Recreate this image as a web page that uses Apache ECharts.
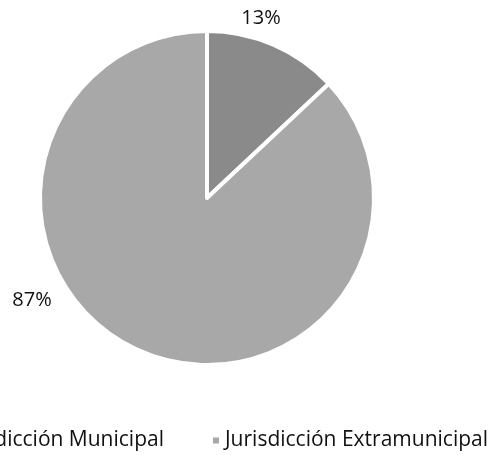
<!DOCTYPE html>
<html>
<head>
<meta charset="utf-8">
<script src="https://cdn.jsdelivr.net/npm/echarts@6/dist/echarts.min.js"></script>
<style>
  html, body { margin: 0; padding: 0; background: #fff; overflow: hidden; }
  #chart { position: absolute; left: -100px; top: 0; width: 592px; height: 455px; }
</style>
</head>
<body>
<div id="chart"></div>
<script>
const categories = ['Jurisdicción Municipal', 'Jurisdicción Extramunicipal']
const shares = [13, 87]
const sliceColors = ['#8a8a8a', '#a8a8a8']

// label spots as Excel placed them (page px, chart div is shifted 100px left)
const labelSpots = [[361, 18], [132, 300]]

const chart = echarts.init(document.getElementById('chart'), null, { renderer: 'canvas' })

chart.setOption({
  animation: false,
  backgroundColor: '#fff',
  textStyle: { fontFamily: 'Open Sans' },
  legend: {
    data: categories,
    right: 4,
    top: 430,
    padding: 0,
    itemWidth: 8,
    itemHeight: 8,
    itemGap: 47,
    icon: 'rect',
    textStyle: { fontSize: 21, color: '#111', fontFamily: 'Open Sans' }
  },
  series: [{
    type: 'pie',
    center: [307, 198],
    radius: 167,
    startAngle: 90,
    clockwise: true,
    itemStyle: { borderColor: '#fff', borderWidth: 4 },
    label: {
      show: true,
      position: 'outside',
      formatter: '{d}%',
      fontSize: 20,
      color: '#111'
    },
    labelLine: { show: false },
    labelLayout: (p) => ({
      x: labelSpots[p.dataIndex][0],
      y: labelSpots[p.dataIndex][1],
      align: 'center',
      verticalAlign: 'middle'
    }),
    data: categories.map((name, i) => ({
      name,
      value: shares[i],
      itemStyle: { color: sliceColors[i] }
    }))
  }]
})
</script>
</body>
</html>
